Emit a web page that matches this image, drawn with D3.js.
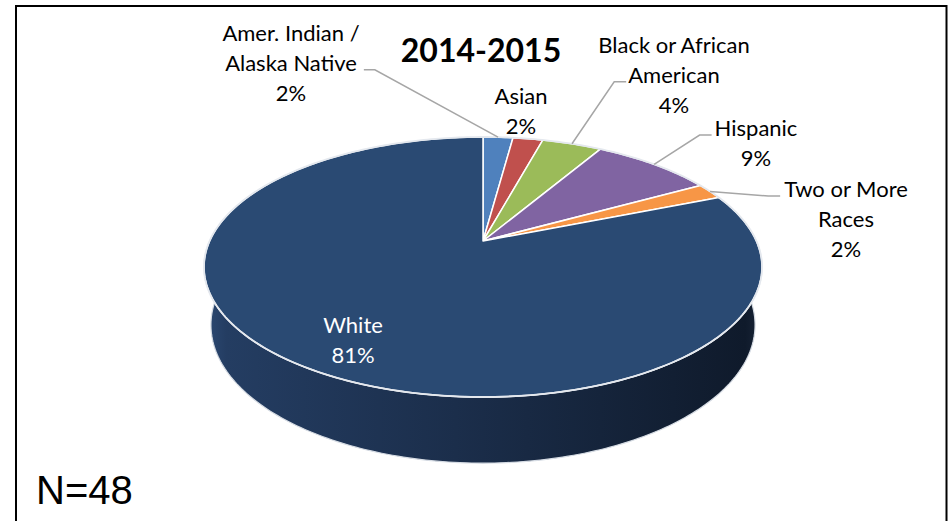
<!DOCTYPE html>
<html>
<head>
<meta charset="utf-8">
<script src="https://cdn.jsdelivr.net/npm/d3@7"></script>
<style>
	body { margin: 0; background: #fff; }
	svg { display: block; }
</style>
</head>
<body>
<svg id="chart" width="948" height="521"></svg>
<script>
	// values (shares in percent)
	const categories = ["Amer. Indian /\nAlaska Native", "Asian", "Black or African\nAmerican", "Hispanic", "Two or More\nRaces", "White"];
	const shares = [2.1, 2.1, 4.2, 8.5, 2.0, 81.1];
	const colors = ["#4F81BD", "#C0504D", "#9BBB59", "#8064A2", "#F79646", "#2A4A73"];
	const title = "2014-2015";
	const note = "N=48";

	// where each label block sits (baseline of first line)
	const labelLayout = [
		{ x: 291, y: 41, leaderLine: 1, side: "right", gap: 7 },
		{ x: 521, y: 104 },
		{ x: 674, y: 53, leaderLine: 1, side: "left", gap: 2 },
		{ x: 756, y: 136, leaderLine: 0, side: "left", gap: 3 },
		{ x: 846, y: 197, leaderLine: 0, side: "left", gap: 4 },
		{ x: 353, y: 333, inside: true }
	];
	const lineGap = 29.8;

	// 3d pie geometry (perspective projection of a flat cylinder)
	const cx = 483, cy = 241, k = 273.4;
	const sinT = 0.4565, cosT = 0.8897, persp = 0.2248, depth = 0.24;

	function proj(t, y) {
		let X = Math.sin(t), Z = -Math.cos(t);
		let d = 1 - persp * (Z * cosT + y * sinT);
		return [cx + k * X / d, cy - k * (y * cosT - Z * sinT) / d];
	}

	function arcPts(a0, a1, y) {
		let n = Math.max(2, Math.ceil((a1 - a0) / (Math.PI / 180)));
		return d3.range(n + 1).map(i => proj(a0 + (a1 - a0) * i / n, y));
	}

	let svg = d3.select("#chart");
	let line = d3.line();
	let defs = svg.append("defs");

	let grad = defs.append("linearGradient")
		.attr("id", "wall")
		.attr("gradientUnits", "userSpaceOnUse")
		.attr("x1", 204).attr("x2", 762).attr("y1", 0).attr("y2", 0);
	[["0", "#2c4a74"], ["0.04", "#243d62"], ["0.45", "#1b2e4b"], ["0.97", "#0f1a2b"], ["1", "#1a2638"]]
		.forEach(s => grad.append("stop").attr("offset", s[0]).attr("stop-color", s[1]));

	let pie = d3.pie().sort(null).value(d => d);
	let arcs = pie(shares);

	// side wall, only the front half can be seen
	let frontLo = Math.PI / 2, frontHi = 3 * Math.PI / 2;
	arcs.forEach(function(a, i) {
		let a0 = Math.max(a.startAngle, frontLo), a1 = Math.min(a.endAngle, frontHi);
		if (a1 <= a0) return;
		let pts = arcPts(a0, a1, 0).concat(arcPts(a0, a1, -depth).reverse());
		svg.append("path")
			.attr("d", line(pts) + "Z")
			.attr("fill", i == 5 ? "url(#wall)" : d3.color(colors[i]).darker(1.2))
			.attr("stroke", "#d5dbe3")
			.attr("stroke-width", 1.2);
	});

	// top face
	arcs.forEach(function(a, i) {
		let pts = [[cx, cy]].concat(arcPts(a.startAngle, a.endAngle, 0));
		svg.append("path")
			.attr("d", line(pts) + "Z")
			.attr("fill", colors[i])
			.attr("stroke", "#ffffff")
			.attr("stroke-width", 1.5)
			.attr("stroke-linejoin", "round");
	});

	// rim highlight
	svg.append("path")
		.attr("d", line(arcPts(0, 2 * Math.PI, 0)) + "Z")
		.attr("fill", "none")
		.attr("stroke", "#e4e8ee")
		.attr("stroke-width", 1.8);

	// labels
	arcs.forEach(function(a, i) {
		let lay = labelLayout[i];
		let lines = categories[i].split("\n").concat([Math.round(shares[i]) + "%"]);
		let nodes = lines.map(function(t, j) {
			return svg.append("text")
				.attr("x", lay.x)
				.attr("y", lay.y + j * lineGap)
				.attr("text-anchor", "middle")
				.style("font-family", "Lato, 'Open Sans', sans-serif")
				.style("font-size", "22px")
				.style("fill", lay.inside ? "#ffffff" : "#000000")
				.text(t);
		});
		if (lay.leaderLine === undefined) return;
		let box = nodes[lay.leaderLine].node().getBBox();
		let ly = lay.y + lay.leaderLine * lineGap - 1;
		let sx = lay.side == "right" ? box.x + box.width + lay.gap : box.x - lay.gap;
		let ex = lay.side == "right" ? sx + 11 : sx - 12;
		let mid = (a.startAngle + a.endAngle) / 2;
		svg.insert("path", "text")
			.attr("d", line([[sx, ly], [ex, ly], proj(mid, 0)]))
			.attr("fill", "none")
			.attr("stroke", "#a6a6a6")
			.attr("stroke-width", 1.5);
	});

	// title
	svg.append("text")
		.attr("x", 481)
		.attr("y", 62)
		.attr("text-anchor", "middle")
		.style("font-family", "Lato, 'Open Sans', sans-serif")
		.style("font-size", "32px")
		.style("font-weight", "bold")
		.text(title);

	svg.append("text")
		.attr("x", 36)
		.attr("y", 504)
		.style("font-family", "'Liberation Sans', Arial, sans-serif")
		.style("font-size", "40px")
		.text(note);

	// outer frame
	svg.append("rect")
		.attr("x", 16)
		.attr("y", 6)
		.attr("width", 930.5)
		.attr("height", 540)
		.attr("fill", "none")
		.attr("stroke", "#000")
		.attr("stroke-width", 2);
</script>
</body>
</html>
